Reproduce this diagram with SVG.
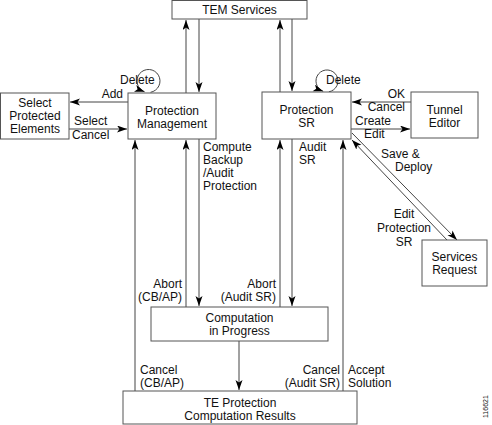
<svg xmlns="http://www.w3.org/2000/svg" width="492" height="425" viewBox="0 0 492 425">
<defs>
<marker id="ah" markerUnits="userSpaceOnUse" markerWidth="10" markerHeight="8" refX="10" refY="3.5" orient="auto">
<path d="M0,0 L10,3.5 L0,7 L2.5,3.5 z" fill="#000"/>
</marker>
<style>
.box{fill:#fff;stroke:#555;stroke-width:1}
.c{fill:none;stroke:#444;stroke-width:1;marker-end:url(#ah)}
text{font-family:"Liberation Sans",Arial,sans-serif;font-size:12px;fill:#111}
.m{text-anchor:middle}
.e{text-anchor:end}
</style>
</defs>
<rect width="492" height="425" fill="#fff"/>
<g id="connectors">
<line class="c" x1="186" y1="93" x2="186" y2="20"/>
<line class="c" x1="199" y1="19" x2="199" y2="92"/>
<line class="c" x1="280" y1="92" x2="280" y2="20"/>
<line class="c" x1="292" y1="19" x2="292" y2="91"/>
<path class="c" d="M150.5,92.3 A11.5,11.5 0 1 0 144.6,91.8"/>
<path class="c" d="M328.9,91.8 A11,11 0 1 0 323.2,91.3"/>
<line class="c" x1="128" y1="102" x2="70" y2="102"/>
<line class="c" x1="69" y1="129" x2="127" y2="129"/>
<line class="c" x1="411" y1="102" x2="352" y2="102"/>
<line class="c" x1="351" y1="129" x2="410" y2="129"/>
<line class="c" x1="447" y1="240" x2="352" y2="140"/>
<line class="c" x1="352" y1="133" x2="457" y2="240"/>
<line class="c" x1="135" y1="391" x2="135" y2="140"/>
<line class="c" x1="186" y1="307" x2="186" y2="140"/>
<line class="c" x1="199" y1="139" x2="199" y2="306"/>
<line class="c" x1="280" y1="307" x2="280" y2="140"/>
<line class="c" x1="292" y1="139" x2="292" y2="306"/>
<line class="c" x1="343" y1="391" x2="343" y2="140"/>
<line class="c" x1="239" y1="341" x2="239" y2="390"/>
</g>
<g id="tem-services">
<rect class="box" x="172" y="0.5" width="135" height="18.5"/>
<text class="m" x="239.5" y="14">TEM Services</text>
</g>
<g id="select-protected-elements">
<rect class="box" x="0.5" y="93" width="68.5" height="46"/>
<text class="m" x="35" y="107">Select</text>
<text class="m" x="35" y="120">Protected</text>
<text class="m" x="35" y="133">Elements</text>
</g>
<g id="protection-management">
<rect class="box" x="128" y="93" width="88" height="46"/>
<text class="m" x="172" y="115">Protection</text>
<text class="m" x="172" y="128">Management</text>
</g>
<g id="protection-sr">
<rect class="box" x="262" y="92" width="89" height="47"/>
<text class="m" x="306.5" y="114">Protection</text>
<text class="m" x="306.5" y="127">SR</text>
</g>
<g id="tunnel-editor">
<rect class="box" x="411" y="92" width="67" height="46"/>
<text class="m" x="444.5" y="114">Tunnel</text>
<text class="m" x="444.5" y="127">Editor</text>
</g>
<g id="services-request">
<rect class="box" x="422" y="240" width="65" height="46"/>
<text class="m" x="454.5" y="261">Services</text>
<text class="m" x="454.5" y="274">Request</text>
</g>
<g id="computation-in-progress">
<rect class="box" x="151" y="307" width="177" height="34"/>
<text class="m" x="239.5" y="322">Computation</text>
<text class="m" x="239.5" y="335">in Progress</text>
</g>
<g id="te-protection-results">
<rect class="box" x="123" y="391" width="234" height="33"/>
<text class="m" x="240" y="407">TE Protection</text>
<text class="m" x="240" y="420">Computation Results</text>
</g>
<g id="labels">
<text x="120" y="84">Delete</text>
<text x="326" y="84">Delete</text>
<text class="e" x="123" y="98">Add</text>
<text x="74" y="125">Select</text>
<text x="72" y="139">Cancel</text>
<text class="e" x="405" y="98">OK</text>
<text class="e" x="405" y="111">Cancel</text>
<text x="355" y="125">Create</text>
<text x="364" y="138">Edit</text>
<text x="381" y="158">Save &amp;</text>
<text x="395" y="171">Deploy</text>
<text class="m" x="404" y="218">Edit</text>
<text class="m" x="404" y="232">Protection</text>
<text class="m" x="404" y="246">SR</text>
<text x="203" y="151">Compute</text>
<text x="203" y="164">Backup</text>
<text x="203" y="177">/Audit</text>
<text x="203" y="190">Protection</text>
<text x="299" y="151">Audit</text>
<text x="299" y="164">SR</text>
<text class="e" x="182" y="288">Abort</text>
<text class="e" x="182" y="301">(CB/AP)</text>
<text class="e" x="276" y="288">Abort</text>
<text class="e" x="276" y="301">(Audit SR)</text>
<text x="140" y="374">Cancel</text>
<text x="140" y="387">(CB/AP)</text>
<text class="e" x="340" y="374">Cancel</text>
<text class="e" x="340" y="387">(Audit SR)</text>
<text x="348" y="374">Accept</text>
<text x="348" y="387">Solution</text>
<text style="font-size:7px" transform="translate(488,418) rotate(-90)">116621</text>
</g>
</svg>
